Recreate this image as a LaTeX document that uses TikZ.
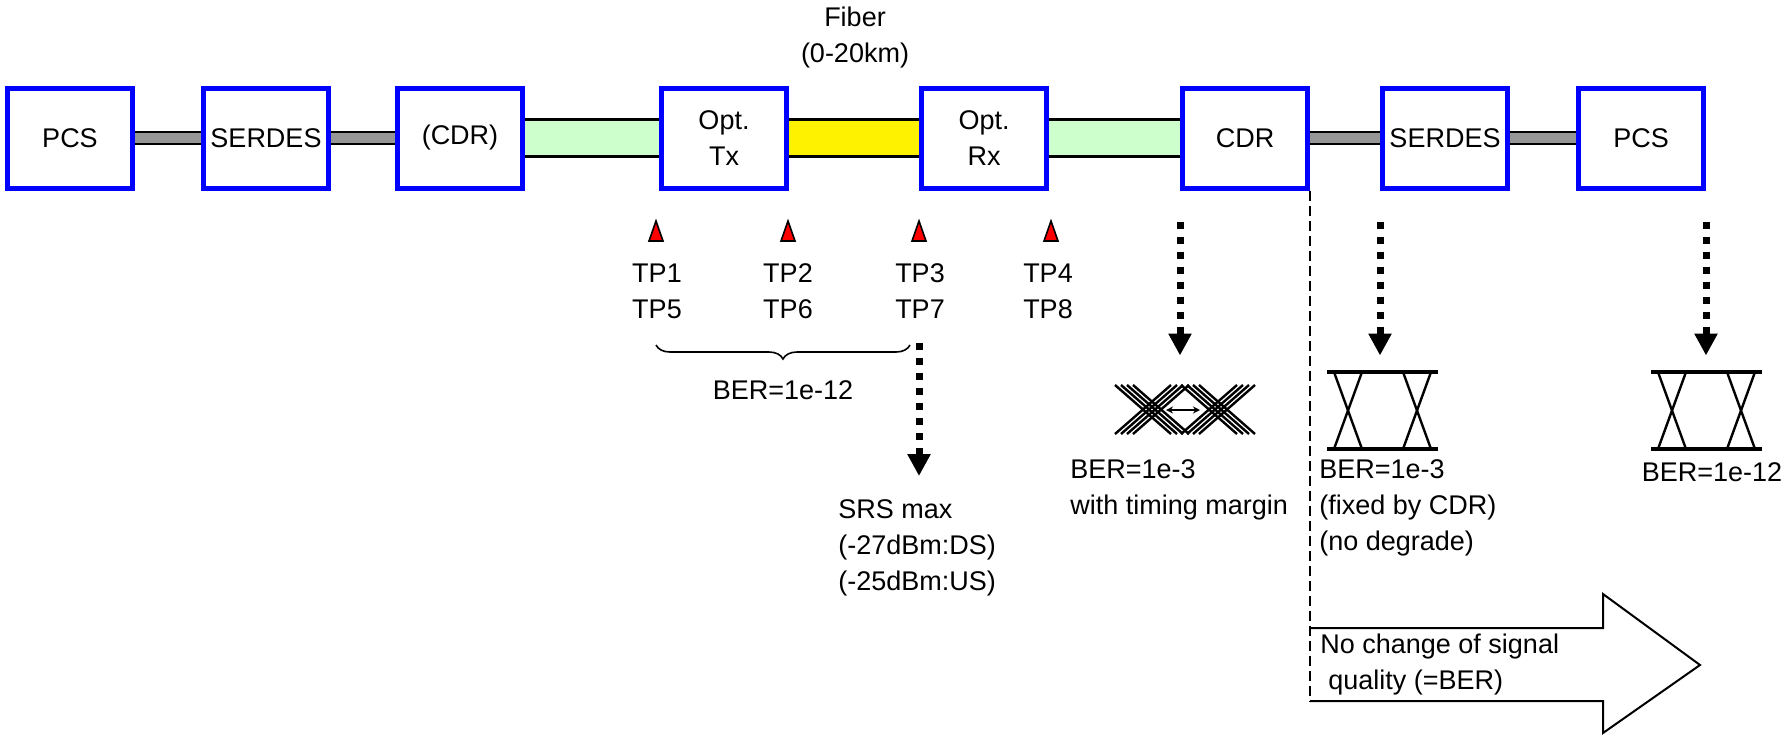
\documentclass[tikz,border=0pt]{standalone}
\usepackage{fontspec}
\setmainfont{Liberation Sans}
\usepackage{xcolor}
\usetikzlibrary{arrows.meta,positioning,backgrounds,decorations.pathreplacing}
\definecolor{lgreen}{HTML}{CCFFCC}
\definecolor{bargray}{HTML}{969696}

\begin{document}
\begin{tikzpicture}[x=0.5pt, y=-0.5pt, font=\fontsize{13.5pt}{18pt}\selectfont,
  blk/.style={draw=blue, line width=2.5pt, fill=white, align=center, minimum width=62.5pt, minimum height=50pt, inner sep=1pt},
  gbar/.style={draw=black, line width=1.2pt, fill=bargray},
  obar/.style={draw=black, line width=1.2pt, fill=#1},
  tpmark/.style={draw=black, line width=0.8pt, fill=red},
  dotarrow/.style={line width=3.5pt, dash pattern=on 3.5pt off 4pt, -{Triangle[width=11pt,length=11pt]}},
  eyeln/.style={line width=1.2pt},
  eyebar/.style={line width=1.6pt},
  txtl/.style={anchor=west, align=left, inner sep=0pt}]
\useasboundingbox (0,0) rectangle (1789,735);

\node[blk] (pcsA) at (70,138) {PCS};
\node[blk, right=33pt of pcsA] (serA) {SERDES};
\node[blk, right=32pt of serA] (cdrA) {(CDR)};
\node[blk, right=67pt of cdrA] (otx) {Opt.\\Tx};
\node[blk, right=65pt of otx] (orx) {Opt.\\Rx};
\node[blk, right=65.5pt of orx] (cdrB) {CDR};
\node[blk, right=35pt of cdrB] (serB) {SERDES};
\node[blk, right=33pt of serB] (pcsB) {PCS};

\begin{scope}[on background layer]
\draw[gbar] ([yshift=3pt]pcsA.center) rectangle ([yshift=-3pt]serA.center);
\draw[gbar] ([yshift=3pt]serA.center) rectangle ([yshift=-3pt]cdrA.center);
\draw[obar=lgreen] ([yshift=9.2pt]cdrA.center) rectangle ([yshift=-9.2pt]otx.center);
\draw[obar=yellow] ([yshift=9.2pt]otx.center) rectangle ([yshift=-9.2pt]orx.center);
\draw[obar=lgreen] ([yshift=9.2pt]orx.center) rectangle ([yshift=-9.2pt]cdrB.center);
\draw[gbar] ([yshift=3pt]cdrB.center) rectangle ([yshift=-3pt]serB.center);
\draw[gbar] ([yshift=3pt]serB.center) rectangle ([yshift=-3pt]pcsB.center);
\end{scope}

\node[align=center] (fiber) at (855,38) {Fiber\\(0-20km)};

\foreach \x in {656,788,919,1051}
  \draw[tpmark] (\x,221) -- (\x+7,241) -- (\x-7,241) -- cycle;
\node[align=center] (tp1) at (657,291) {TP1\\TP5};
\node[align=center] (tp2) at (788,291) {TP2\\TP6};
\node[align=center] (tp3) at (920,291) {TP3\\TP7};
\node[align=center] (tp4) at (1048,291) {TP4\\TP8};

\coordinate (brL) at (656,345);
\coordinate (brR) at (910,345);
\draw[line width=0.8pt, decorate, decoration={brace, mirror, amplitude=7pt}] (brL) -- (brR);
\node (berA) at (783,390) {BER=1e-12};

\coordinate (srsTop) at (919,476);
\draw[dotarrow] (919,343) -- (srsTop);
\node[txtl] (srs) at (838,548) {SRS max\\(-27dBm:DS)\\(-25dBm:US)};

\draw[dotarrow] ([yshift=-15.5pt]cdrB.south west) -- ++(0,134);
\draw[dotarrow] ([yshift=-15.5pt]serB.south west) -- ++(0,134);
\draw[dotarrow] ([yshift=-15.5pt]pcsB.south east) -- ++(0,134);

\foreach \c in {1152,1218}
  \foreach \k in {-9,-3,3,9} {
    \draw[eyeln] (\c-28+\k,385) -- (\c+28+\k,434);
    \draw[eyeln] (\c-28+\k,434) -- (\c+28+\k,385);
  }
\draw[line width=1.3pt, {Stealth[length=3.5pt,width=3.5pt]}-{Stealth[length=3.5pt,width=3.5pt]}] (1166,410) -- (1200,410);

\foreach \c in {1382,1706} {
  \draw[eyebar] (\c-55,372) -- (\c+56,372);
  \draw[eyebar] (\c-55,449) -- (\c+56,449);
  \draw[eyeln] (\c-48,372) -- (\c-20,449);
  \draw[eyeln] (\c-20,372) -- (\c-48,449);
  \draw[eyeln] (\c+21,372) -- (\c+49,449);
  \draw[eyeln] (\c+49,372) -- (\c+21,449);
}

\node[txtl] (berB) at (1070,490) {BER=1e-3\\with timing margin};
\node[txtl] (berC) at (1319,508) {BER=1e-3\\(fixed by CDR)\\(no degrade)};
\node (berD) at (1712,472) {BER=1e-12};

\coordinate (qbl) at (1309,701);
\draw[line width=1.3pt, dash pattern=on 5pt off 2.5pt] (cdrB.south east) -- (cdrB.south east |- qbl);
\draw[line width=1pt] (cdrB.south east |- 0,628) -- (1603,628) -- (1603,594) -- (1700,665) -- (1603,733) -- (1603,701) -- (cdrB.south east |- qbl);
\node[txtl] (nochg) at (1320,665) {No change of signal\\\hspace*{4pt}quality (=BER)};
\end{tikzpicture}
\end{document}
